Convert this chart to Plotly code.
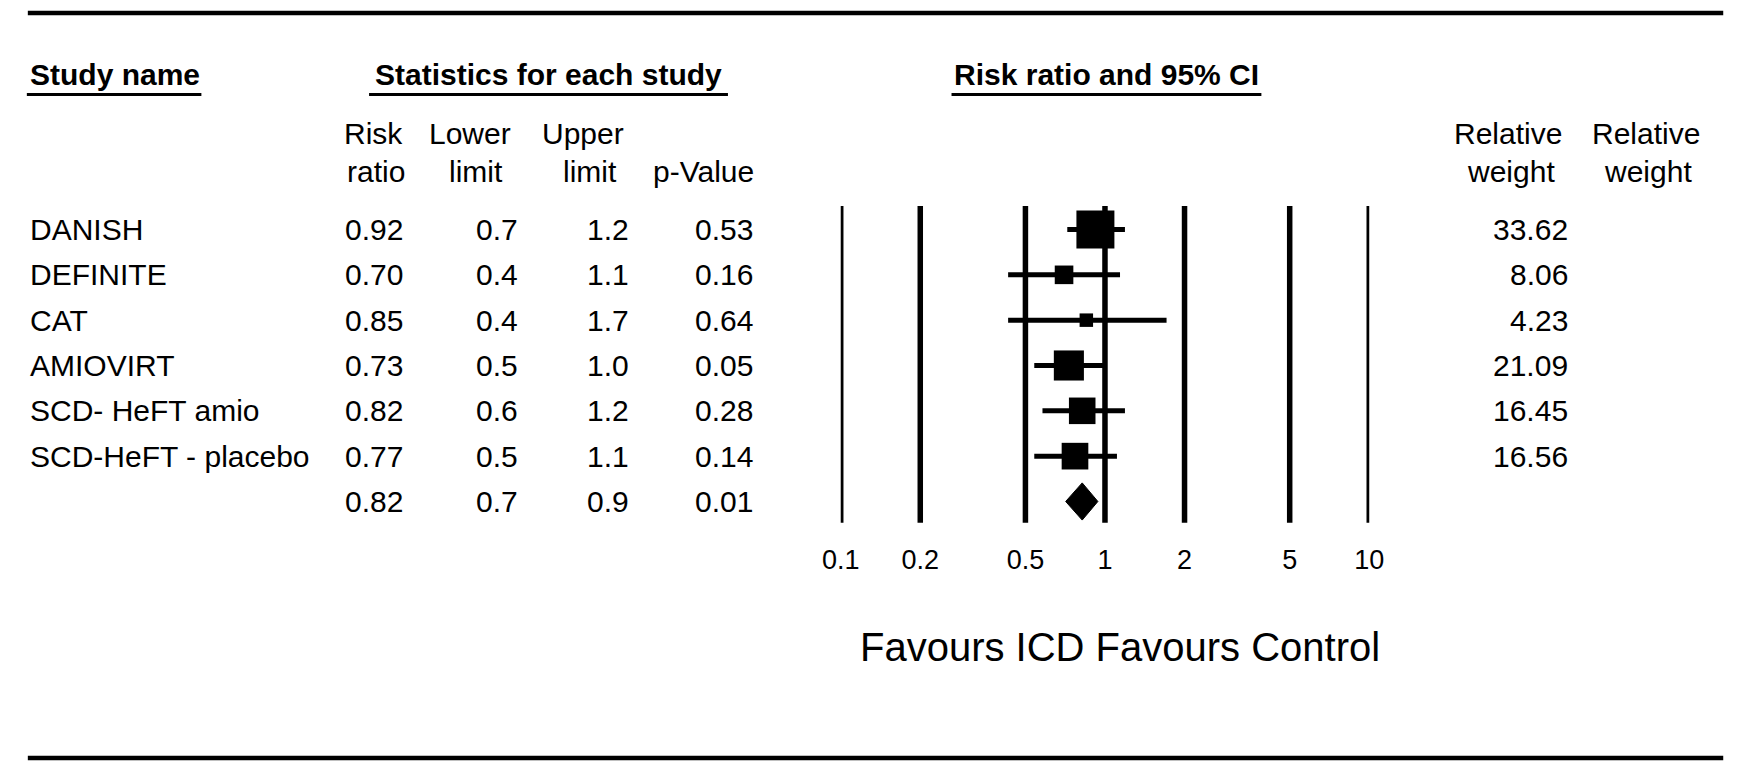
import math
import plotly.graph_objects as go

# ---------------- data ----------------
studies = ["DANISH", "DEFINITE", "CAT", "AMIOVIRT", "SCD- HeFT amio", "SCD-HeFT - placebo"]
risk_ratio = [0.92, 0.70, 0.85, 0.73, 0.82, 0.77]
lower_limit = [0.72, 0.43, 0.43, 0.54, 0.58, 0.54]
upper_limit = [1.19, 1.14, 1.71, 0.99, 1.19, 1.11]
p_values = [0.53, 0.16, 0.64, 0.05, 0.28, 0.14]
relative_weight = [33.62, 8.06, 4.23, 21.09, 16.45, 16.56]

summary_rr = 0.82
summary_lower = 0.71
summary_upper = 0.94
summary_p = 0.01

tick_values = [0.1, 0.2, 0.5, 1, 2, 5, 10]
tick_labels = ["0.1", "0.2", "0.5", "1", "2", "5", "10"]

# ---------------- layout helpers ----------------
W, H = 1750, 770
FONT = "Liberation Sans, Arial, sans-serif"
BLACK = "#000000"


def px(x):
    return x / W


def py(y):
    return 1 - y / H


n = len(studies)
rows = list(range(n))
summary_row = n

fig = go.Figure()

# vertical reference lines at the tick values
vx, vy = [], []
for t in tick_values:
    vx += [t, t, None]
    vy += [-0.52, summary_row + 0.47, None]
fig.add_trace(go.Scatter(x=vx, y=vy, mode="lines",
                         line=dict(color=BLACK, width=5.5), hoverinfo="skip"))

# confidence interval lines
cx, cy = [], []
for i in rows:
    cx += [lower_limit[i], upper_limit[i], None]
    cy += [i, i, None]
fig.add_trace(go.Scatter(x=cx, y=cy, mode="lines",
                         line=dict(color=BLACK, width=5), hoverinfo="skip"))

# weight-proportional squares
fig.add_trace(go.Scatter(
    x=risk_ratio, y=rows, mode="markers",
    marker=dict(symbol="square", color=BLACK, opacity=1,
                size=[6.55 * math.sqrt(w) for w in relative_weight],
                line=dict(width=0)),
    hoverinfo="skip"))

# summary diamond
fig.add_trace(go.Scatter(
    x=[summary_lower, summary_rr, summary_upper, summary_rr, summary_lower],
    y=[summary_row, summary_row - 0.41, summary_row, summary_row + 0.41, summary_row],
    mode="lines", fill="toself", fillcolor=BLACK,
    line=dict(color=BLACK, width=1), hoverinfo="skip"))

annotations = []


def add_text(text, x, y, anchor="center", size=30, yref="paper", bold=False):
    annotations.append(dict(
        text=("<b>%s</b>" % text) if bold else text,
        x=px(x), y=y, xref="paper", yref=yref,
        xanchor=anchor, yanchor="middle", showarrow=False,
        font=dict(family=FONT, size=size, color=BLACK)))


# headers
add_text("Study name", 9, py(74), anchor="left", bold=True)
add_text("Statistics for each study", 540, py(74), bold=True)
add_text("Risk ratio and 95% CI", 1109, py(74), bold=True)

# column headers
col_head = [
    ("Risk", 362, 134), ("ratio", 364, 171),
    ("Lower", 460, 134), ("limit", 466, 171),
    ("Upper", 575, 134), ("limit", 582, 171),
    ("p-Value", 698, 171),
    ("Relative", 1518, 134), ("weight", 1522, 171),
    ("Relative", 1659, 134), ("weight", 1661, 171),
]
for t, x, y in col_head:
    add_text(t, x, py(y))

# rows
for i in rows:
    add_text(studies[i], 9, i, anchor="left", yref="y")
    add_text("%.2f" % risk_ratio[i], 394, i, anchor="right", yref="y")
    add_text("%.1f" % lower_limit[i], 511, i, anchor="right", yref="y")
    add_text("%.1f" % upper_limit[i], 624, i, anchor="right", yref="y")
    add_text("%.2f" % p_values[i], 751, i, anchor="right", yref="y")
    add_text("%.2f" % relative_weight[i], 1582, i, anchor="right", yref="y")

add_text("%.2f" % summary_rr, 394, summary_row, anchor="right", yref="y")
add_text("%.1f" % summary_lower, 511, summary_row, anchor="right", yref="y")
add_text("%.1f" % summary_upper, 624, summary_row, anchor="right", yref="y")
add_text("%.2f" % summary_p, 751, summary_row, anchor="right", yref="y")

# favours label
add_text("Favours ICD Favours Control", 1123, py(647), size=40)

shapes = []


def hline(x0, x1, y, width):
    shapes.append(dict(type="line", xref="paper", yref="paper",
                       x0=px(x0), x1=px(x1), y0=py(y), y1=py(y),
                       line=dict(color=BLACK, width=width)))


hline(9, 1738, 13, 4.5)
hline(9, 1738, 758, 4.5)
hline(8, 186, 94.5, 3)
hline(357, 723, 94.5, 3)
hline(951, 1267, 94.5, 3)

row_px0 = 229.5
row_step = 45.33
y_top = -row_px0 / row_step
y_bot = (H - row_px0) / row_step

fig.update_layout(
    width=W, height=H,
    margin=dict(l=0, r=0, t=0, b=0),
    paper_bgcolor="white", plot_bgcolor="white",
    showlegend=False,
    annotations=annotations,
    shapes=shapes,
    xaxis=dict(type="log", range=[-1, 1], domain=[px(838), px(1377)],
               anchor="free", position=py(541),
               tickvals=tick_values, ticktext=tick_labels,
               ticks="", showgrid=False, zeroline=False, showline=False,
               tickfont=dict(family=FONT, size=27, color=BLACK),
               fixedrange=True),
    yaxis=dict(range=[y_bot, y_top], domain=[0, 1], visible=False,
               showgrid=False, zeroline=False, fixedrange=True),
)

fig.write_html("out.html",
               config={"displayModeBar": False},
               post_script="document.body.style.margin='0';document.body.style.overflow='hidden';")
